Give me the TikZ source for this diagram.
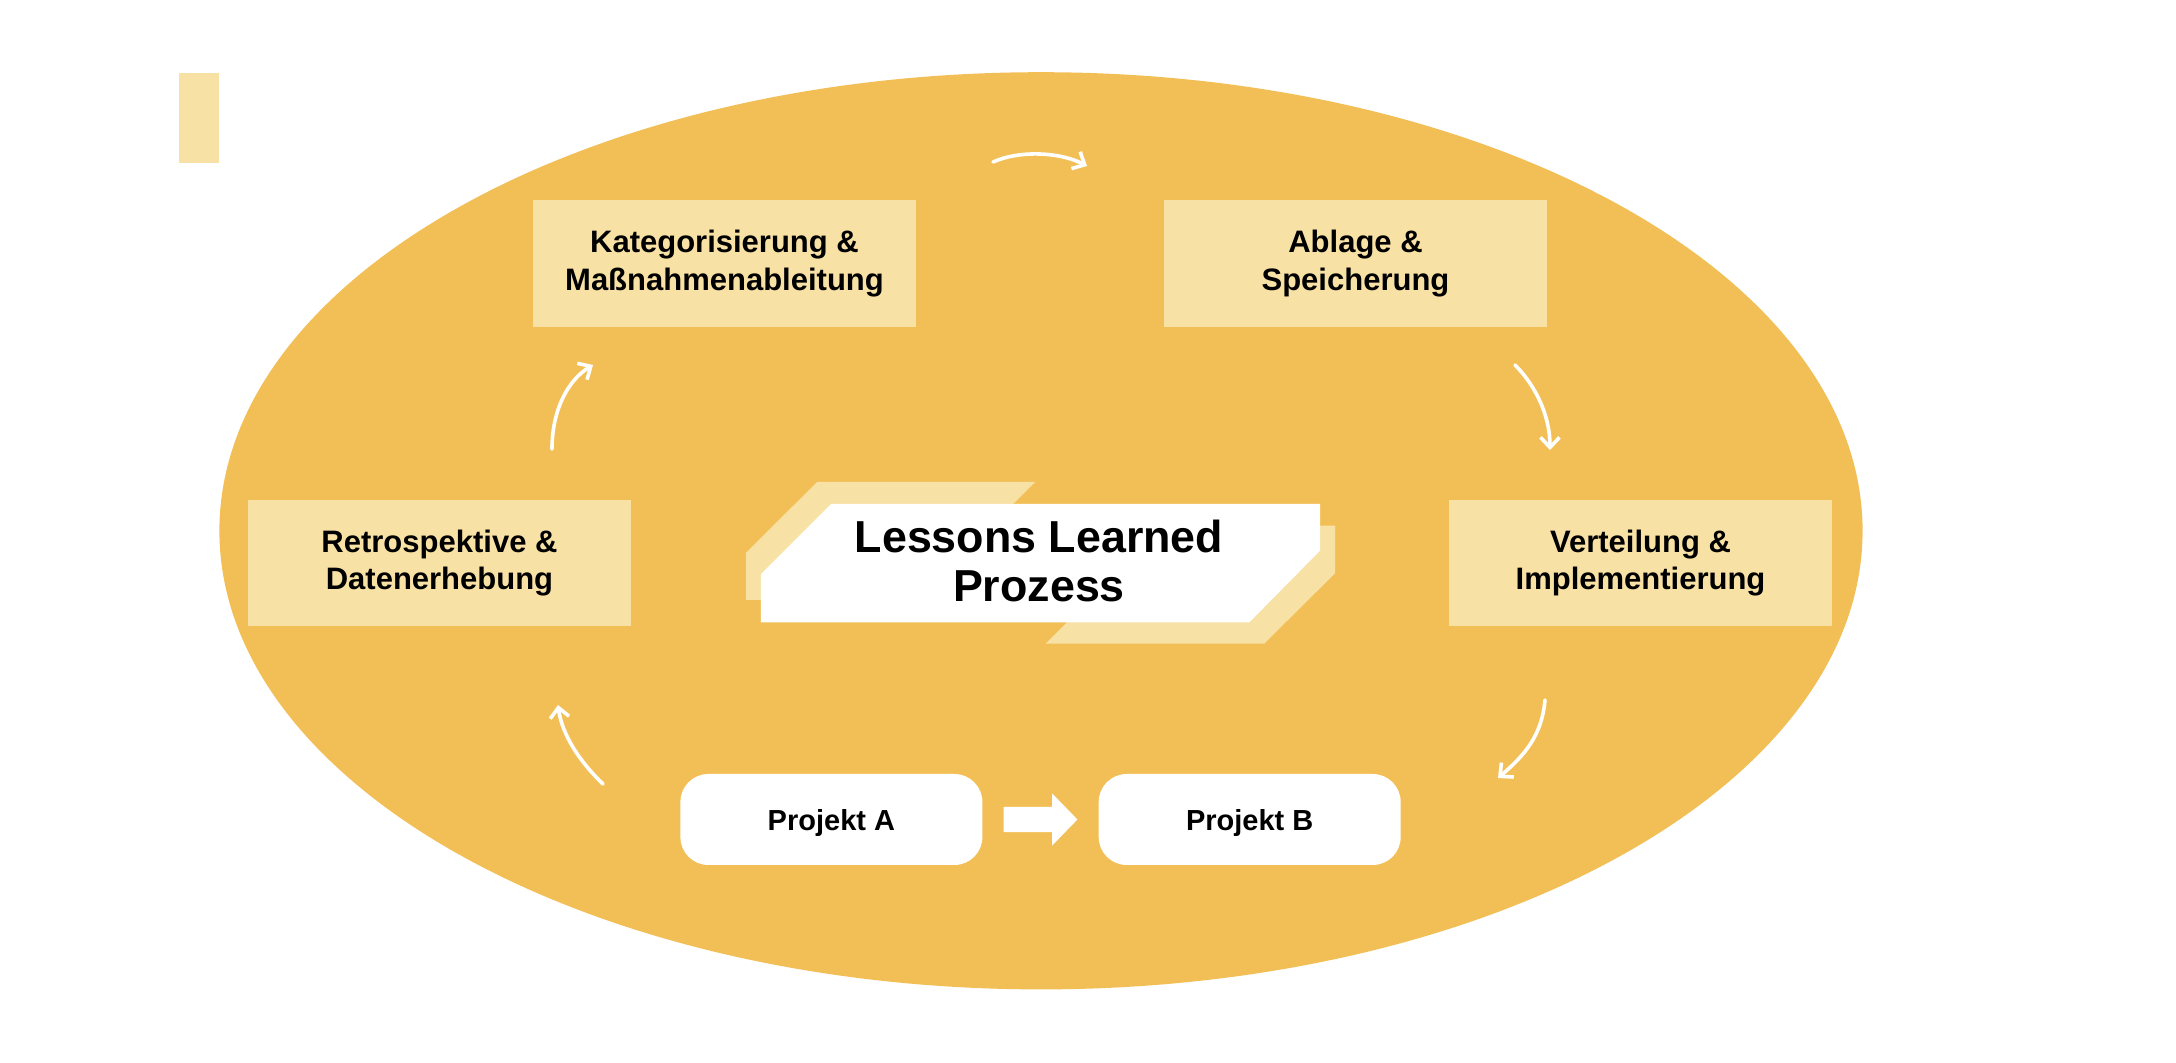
\documentclass[tikz,border=0pt]{standalone}
\usepackage{fontspec}
\setmainfont{Liberation Sans}
\usetikzlibrary{calc,arrows.meta}

\definecolor{ovalorange}{HTML}{F2BF57}
\definecolor{lightsand}{HTML}{F8E1A5}

\tikzset{
  stagebox/.style={fill=lightsand, minimum width=191.5pt, minimum height=63.3pt, inner sep=0pt, align=center, font=\bfseries\fontsize{15.5}{18.8}\selectfont},
  projbox/.style={fill=white, rounded corners=14pt, minimum width=151pt, minimum height=45.5pt, inner sep=0pt, text depth=0pt, font=\bfseries\fontsize{14.5}{16}\selectfont},
  cyclearrow/.style={white, line width=1.8pt, line cap=round, -{Straight Barb[length=5pt,width=9.5pt]}},
}

\begin{document}
\begin{tikzpicture}[x=0.5pt,y=-0.5pt]
  \useasboundingbox (0,0) rectangle (2176,1063);
  \fill[ovalorange] (1041,530.8) ellipse [x radius=410.8pt, y radius=229.3pt];
  \fill[lightsand] (179,73) rectangle (219,163);

  % title plate
  \fill[lightsand] (817.1,482) -- (1035.1,482) -- (1000,517.1) -- (780,600) -- (746.1,600) -- (746.1,552.7) -- cycle;
  \fill[lightsand] (1045.7,643.7) -- (1264.1,643.7) -- (1335.1,573.3) -- (1335.1,525.7) -- (1300,525.7) -- (1250,580) -- (1080,609.4) -- cycle;
  \fill[white] (831,504) -- (1320,504) -- (1320,550.7) -- (1249.4,622.3) -- (760.8,622.3) -- (760.8,574.3) -- cycle;
  \node[font=\bfseries\fontsize{22.4}{24.5}\selectfont, align=center] (title) at (1039,561) {Lessons Learned\\Prozess};

  % stages
  \node[stagebox] (kat) at (724.5,263.5) {Kategorisierung \&\\Maßnahmenableitung};
  \node[stagebox] (ablage) at (1355.5,263.5) {Ablage \&\\Speicherung};
  \node[stagebox] (retro) at (439.5,563) {Retrospektive \&\\Datenerhebung};
  \node[stagebox] (verteil) at (1640.5,563) {Verteilung \&\\Implementierung};

  % projects
  \node[projbox] (projA) at (831.4,819.5) {Projekt A};
  \node[projbox] (projB) at (1249.7,819.5) {Projekt B};
  \coordinate (nextS) at ($(projA.east)+(20.9,0)$);
  \coordinate (nextT) at ($(projB.west)+(-20.9,0)$);
  \fill[white] ($(nextS)+(0,-12.6)$) -- ($(nextT)+(-25.2,-12.6)$) -- ($(nextT)+(-25.2,-26)$) -- (nextT)
    -- ($(nextT)+(-25.2,26)$) -- ($(nextT)+(-25.2,12.6)$) -- ($(nextS)+(0,12.6)$) -- cycle;

  % cycle arrows
  \coordinate (c1s) at (993,162);   \coordinate (c1e) at (1087,166);
  \coordinate (c2s) at (1515,365);  \coordinate (c2e) at (1550,450);
  \coordinate (c3s) at (1545,700);  \coordinate (c3e) at (1498,778);
  \coordinate (c4s) at (603,784);   \coordinate (c4e) at (558,705);
  \coordinate (c5s) at (552,449);   \coordinate (c5e) at (593,365);
  \draw[cyclearrow] (c1s) .. controls (1020,150) and (1060,152) .. (c1e);
  \draw[cyclearrow] (c2s) .. controls (1535,385) and (1550,415) .. (c2e);
  \draw[cyclearrow] (c3s) .. controls (1542,735) and (1525,755) .. (c3e);
  \draw[cyclearrow] (c4s) .. controls (580,762) and (562,735) .. (c4e);
  \draw[cyclearrow] (c5s) .. controls (552,410) and (568,380) .. (c5e);
\end{tikzpicture}
\end{document}
